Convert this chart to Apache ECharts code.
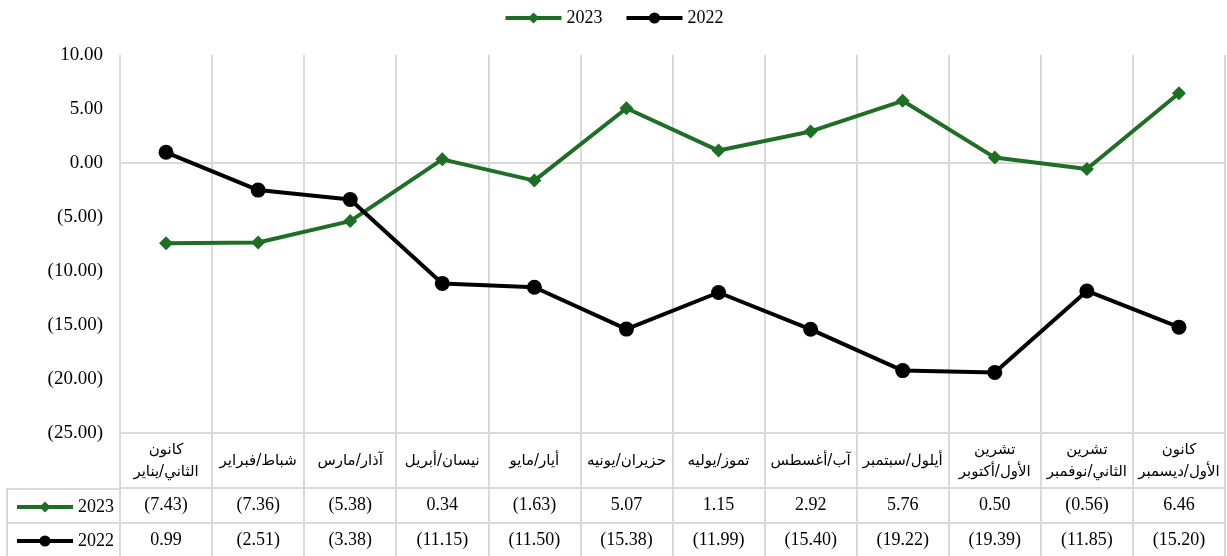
<!DOCTYPE html>
<html>
<head>
<meta charset="utf-8">
<script src="https://cdn.jsdelivr.net/npm/echarts@6/dist/echarts.min.js"></script>
<style>
  html, body { margin: 0; padding: 0; background: #fff; }
  #chart { width: 1227px; height: 556px; }
</style>
</head>
<body>
<div id="chart"></div>
<script>
const months = [
  'كانون\nالثاني/يناير', 'شباط/فبراير', 'آذار/مارس', 'نيسان/أبريل',
  'أيار/مايو', 'حزيران/يونيه', 'تموز/يوليه', 'آب/أغسطس',
  'أيلول/سبتمبر', 'تشرين\nالأول/أكتوبر', 'تشرين\nالثاني/نوفمبر', 'كانون\nالأول/ديسمبر'
];
const values2023 = [-7.43, -7.36, -5.38, 0.34, -1.63, 5.07, 1.15, 2.92, 5.76, 0.50, -0.56, 6.46];
const values2022 = [0.99, -2.51, -3.38, -11.15, -11.50, -15.38, -11.99, -15.40, -19.22, -19.39, -11.85, -15.20];
const seriesNames = ['2023', '2022'];

const serif = "'Liberation Serif', 'Times New Roman', serif";
const arabic = "'DejaVu Sans', sans-serif";
const gridColor = '#d9d9d9';
const green = '#1e6e26';

// أرقام سالبة بين قوسين
const fmt = v => v < 0 ? '(' + Math.abs(v).toFixed(2) + ')' : v.toFixed(2);

const chart = echarts.init(document.getElementById('chart'));

const hidden = {show: false};
const legendBase = {
  itemWidth: 56,
  itemHeight: 14,
  lineStyle: {width: 4},
  textStyle: {fontFamily: serif, fontSize: 18, color: '#000'}
};

chart.setOption({
  animation: false,
  grid: {left: 120, right: 2, top: 55, bottom: 123},
  legend: [
    Object.assign({}, legendBase, {top: 4, left: 'center', itemGap: 22, data: seriesNames}),
    // مفاتيح جدول البيانات
    Object.assign({}, legendBase, {top: 493, left: 10, data: [seriesNames[0]]}),
    Object.assign({}, legendBase, {top: 527, left: 10, data: [seriesNames[1]]})
  ],
  xAxis: [
    {
      // الخط الصفري وخطوط الشبكة العمودية
      type: 'category',
      data: months,
      axisLine: {onZero: true, lineStyle: {color: gridColor, width: 2}},
      axisTick: hidden,
      axisLabel: hidden,
      splitLine: {show: true, lineStyle: {color: gridColor, width: 2}}
    },
    {
      // صف أسماء الأشهر
      type: 'category',
      data: months,
      position: 'bottom',
      axisLine: {onZero: false, lineStyle: {color: gridColor, width: 2}},
      axisTick: {show: true, length: 123, lineStyle: {color: gridColor, width: 2}},
      axisLabel: {
        margin: 28,
        verticalAlign: 'middle',
        fontFamily: arabic,
        fontSize: 15,
        lineHeight: 22,
        color: '#000',
        interval: 0
      }
    },
    {
      // صف 2023
      type: 'category',
      data: months,
      position: 'bottom',
      offset: 55,
      axisLine: {onZero: false, lineStyle: {color: gridColor, width: 2}},
      axisTick: hidden,
      axisLabel: {
        margin: 17,
        verticalAlign: 'middle',
        interval: 0,
        fontFamily: serif,
        fontSize: 18,
        color: '#000',
        formatter: (v, i) => fmt(values2023[i])
      }
    },
    {
      // صف 2022
      type: 'category',
      data: months,
      position: 'bottom',
      offset: 90,
      axisLine: {onZero: false, lineStyle: {color: gridColor, width: 2}},
      axisTick: hidden,
      axisLabel: {
        margin: 17,
        verticalAlign: 'middle',
        interval: 0,
        fontFamily: serif,
        fontSize: 18,
        color: '#000',
        formatter: (v, i) => fmt(values2022[i])
      }
    }
  ],
  yAxis: {
    type: 'value',
    min: -25,
    max: 10,
    interval: 5,
    axisLine: hidden,
    axisTick: hidden,
    splitLine: hidden,
    axisLabel: {
      margin: 17,
      fontFamily: serif,
      fontSize: 19,
      color: '#000',
      formatter: fmt
    }
  },
  graphic: [
    {type: 'line', shape: {x1: 7, y1: 489, x2: 121, y2: 489}, style: {stroke: gridColor, lineWidth: 2}},
    {type: 'line', shape: {x1: 7, y1: 523, x2: 121, y2: 523}, style: {stroke: gridColor, lineWidth: 2}},
    {type: 'line', shape: {x1: 7, y1: 488, x2: 7, y2: 556}, style: {stroke: gridColor, lineWidth: 2}}
  ],
  series: [
    {
      name: seriesNames[0],
      type: 'line',
      data: values2023,
      symbol: 'diamond',
      symbolSize: 14,
      color: green,
      lineStyle: {width: 4, color: green},
      itemStyle: {color: green}
    },
    {
      name: seriesNames[1],
      type: 'line',
      data: values2022,
      symbol: 'circle',
      symbolSize: 15,
      color: '#000',
      lineStyle: {width: 4, color: '#000'},
      itemStyle: {color: '#000'}
    }
  ]
});
</script>
</body>
</html>
